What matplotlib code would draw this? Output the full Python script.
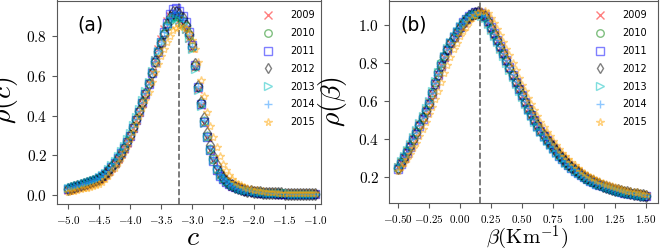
import matplotlib
matplotlib.use("Agg")
import matplotlib.pyplot as plt
from matplotlib.ticker import FuncFormatter, MultipleLocator

plt.rcParams['mathtext.fontset'] = 'cm'
plt.rcParams['font.family'] = ['DejaVu Sans']

years = ['2009', '2010', '2011', '2012', '2013', '2014', '2015']
markers = ['x', 'o', 's', 'd', '>', '+', '*']
colors = ['red', 'green', 'blue', 'black', 'c', 'dodgerblue', 'orange']

# panel (a): rho(c), bins of 0.05
c_vals = [-5.00, -4.95, -4.90, -4.85, -4.80, -4.75, -4.70, -4.65, -4.60, -4.55,
          -4.50, -4.45, -4.40, -4.35, -4.30, -4.25, -4.20, -4.15, -4.10, -4.05,
          -4.00, -3.95, -3.90, -3.85, -3.80, -3.75, -3.70, -3.65, -3.60, -3.55,
          -3.50, -3.45, -3.40, -3.35, -3.30, -3.25, -3.20, -3.15, -3.10, -3.05,
          -3.00, -2.95, -2.90, -2.85, -2.80, -2.75, -2.70, -2.65, -2.60, -2.55,
          -2.50, -2.45, -2.40, -2.35, -2.30, -2.25, -2.20, -2.15, -2.10, -2.05,
          -2.00, -1.95, -1.90, -1.85, -1.80, -1.75, -1.70, -1.65, -1.60, -1.55,
          -1.50, -1.45, -1.40, -1.35, -1.30, -1.25, -1.20, -1.15, -1.10, -1.05,
          -1.00]
rho_c_2009 = [.028, .033, .038, .043, .048, .053, .058, .063, .069, .075,
              .082, .092, .104, .120, .138, .159, .182, .207, .232, .263,
              .296, .336, .376, .418, .462, .510, .562, .620, .680, .735,
              .785, .835, .875, .900, .905, .895, .880, .860, .835, .790,
              .740, .645, .535, .455, .365, .292, .225, .175, .128, .100,
              .083, .068, .057, .048, .041, .035, .030, .026, .022, .019,
              .016, .014, .013, .012, .011, .010, .009, .008, .008, .007,
              .007, .006, .006, .006, .006, .006, .006, .005, .005, .005,
              .005]
rho_c_2010 = [.030, .036, .041, .046, .051, .056, .061, .066, .072, .078,
              .085, .095, .107, .124, .142, .164, .187, .212, .238, .270,
              .303, .343, .383, .425, .468, .514, .562, .616, .672, .720,
              .765, .810, .850, .880, .900, .902, .895, .878, .850, .805,
              .745, .650, .545, .462, .372, .298, .232, .180, .132, .104,
              .086, .071, .058, .049, .042, .036, .030, .026, .022, .019,
              .017, .015, .013, .012, .011, .010, .009, .009, .008, .008,
              .007, .007, .007, .006, .006, .006, .006, .006, .005, .005,
              .005]
rho_c_2011 = [.032, .037, .042, .047, .052, .057, .062, .067, .072, .078,
              .084, .094, .106, .122, .141, .162, .186, .210, .236, .267,
              .300, .338, .378, .420, .462, .508, .558, .614, .672, .722,
              .772, .822, .868, .910, .935, .940, .925, .902, .870, .820,
              .758, .655, .545, .460, .368, .292, .226, .172, .127, .098,
              .082, .068, .056, .047, .040, .034, .029, .025, .021, .018,
              .016, .014, .012, .011, .010, .009, .008, .008, .007, .007,
              .006, .006, .006, .006, .005, .005, .005, .005, .005, .005,
              .004]
rho_c_2012 = [.030, .035, .040, .045, .050, .055, .060, .065, .070, .076,
              .083, .093, .105, .121, .140, .161, .185, .209, .235, .266,
              .300, .339, .380, .422, .465, .511, .560, .617, .675, .724,
              .770, .818, .860, .895, .920, .922, .910, .890, .855, .810,
              .760, .660, .550, .470, .390, .315, .250, .195, .150, .110,
              .085, .070, .058, .049, .042, .036, .030, .026, .022, .019,
              .017, .015, .013, .012, .011, .010, .009, .009, .008, .008,
              .007, .007, .007, .006, .006, .006, .006, .006, .006, .005,
              .005]
rho_c_2013 = [.034, .040, .045, .050, .055, .060, .066, .071, .077, .083,
              .090, .101, .113, .130, .150, .172, .196, .221, .248, .280,
              .314, .354, .394, .436, .478, .523, .570, .625, .680, .727,
              .770, .812, .850, .875, .890, .892, .880, .862, .835, .792,
              .735, .635, .530, .448, .362, .290, .226, .176, .130, .102,
              .086, .072, .060, .051, .044, .038, .032, .028, .024, .021,
              .018, .016, .014, .013, .012, .011, .010, .010, .009, .009,
              .008, .008, .007, .007, .007, .007, .006, .006, .006, .006,
              .006]
rho_c_2014 = [.031, .036, .041, .046, .051, .056, .061, .066, .071, .077,
              .084, .094, .106, .122, .141, .162, .186, .210, .237, .268,
              .302, .341, .382, .424, .466, .512, .561, .618, .676, .725,
              .772, .820, .862, .898, .918, .920, .908, .888, .858, .812,
              .752, .655, .548, .468, .376, .302, .235, .182, .134, .106,
              .088, .073, .060, .051, .044, .037, .032, .027, .023, .020,
              .018, .016, .014, .013, .012, .011, .010, .009, .009, .008,
              .008, .007, .007, .007, .007, .006, .006, .006, .006, .006,
              .006]
rho_c_2015 = [.015, .018, .022, .026, .030, .034, .038, .042, .047, .052,
              .058, .068, .080, .096, .115, .136, .160, .187, .215, .246,
              .280, .319, .360, .400, .440, .478, .520, .570, .620, .662,
              .700, .737, .770, .803, .830, .843, .850, .848, .840, .815,
              .780, .735, .670, .580, .500, .420, .350, .290, .240, .195,
              .155, .125, .100, .082, .068, .058, .050, .042, .035, .030,
              .026, .023, .020, .018, .016, .015, .014, .013, .012, .012,
              .011, .011, .011, .010, .010, .010, .010, .010, .010, .010,
              .010]
c_peak = -3.2

# panel (b): rho(beta), bins of 0.025
beta_vals = [-0.500, -0.475, -0.450, -0.425, -0.400, -0.375, -0.350, -0.325, -0.300, -0.275,
             -0.250, -0.225, -0.200, -0.175, -0.150, -0.125, -0.100, -0.075, -0.050, -0.025,
             0.000, 0.025, 0.050, 0.075, 0.100, 0.125, 0.150, 0.175, 0.200, 0.225,
             0.250, 0.275, 0.300, 0.325, 0.350, 0.375, 0.400, 0.425, 0.450, 0.475,
             0.500, 0.525, 0.550, 0.575, 0.600, 0.625, 0.650, 0.675, 0.700, 0.725,
             0.750, 0.775, 0.800, 0.825, 0.850, 0.875, 0.900, 0.925, 0.950, 0.975,
             1.000, 1.025, 1.050, 1.075, 1.100, 1.125, 1.150, 1.175, 1.200, 1.225,
             1.250, 1.275, 1.300, 1.325, 1.350, 1.375, 1.400, 1.425, 1.450, 1.475,
             1.500]
rho_b_2009 = [.250, .277, .305, .336, .368, .403, .438, .476, .515, .553,
              .592, .643, .695, .743, .790, .833, .872, .906, .936, .964,
              .988, 1.010, 1.028, 1.042, 1.052, 1.058, 1.060, 1.052, 1.040, 1.012,
              .980, .948, .915, .880, .845, .807, .770, .732, .695, .660,
              .625, .590, .556, .526, .497, .469, .442, .417, .393, .373,
              .353, .333, .313, .296, .279, .264, .249, .236, .224, .211,
              .200, .190, .182, .174, .166, .159, .152, .146, .141, .136,
              .131, .127, .123, .119, .116, .113, .110, .107, .104, .101,
              .099]
rho_b_2010 = [.248, .275, .303, .333, .364, .399, .434, .473, .513, .551,
              .590, .645, .700, .750, .800, .835, .868, .902, .932, .960,
              .985, 1.007, 1.025, 1.039, 1.050, 1.058, 1.062, 1.055, 1.043, 1.015,
              .983, .951, .918, .883, .848, .810, .773, .735, .698, .663,
              .628, .592, .558, .528, .498, .470, .443, .418, .394, .374,
              .354, .334, .314, .296, .279, .264, .249, .236, .224, .211,
              .200, .190, .182, .174, .166, .159, .152, .146, .141, .136,
              .131, .127, .123, .119, .116, .113, .110, .107, .104, .101,
              .099]
rho_b_2011 = [.240, .268, .296, .326, .356, .391, .426, .465, .505, .543,
              .582, .635, .688, .736, .783, .828, .868, .903, .934, .964,
              .990, 1.013, 1.032, 1.047, 1.058, 1.065, 1.068, 1.061, 1.048, 1.020,
              .988, .956, .922, .887, .852, .814, .776, .738, .700, .664,
              .629, .593, .558, .527, .497, .469, .441, .416, .391, .370,
              .350, .330, .310, .292, .275, .260, .245, .232, .220, .207,
              .196, .187, .178, .170, .162, .155, .149, .143, .138, .133,
              .128, .124, .120, .116, .113, .110, .107, .104, .101, .098,
              .096]
rho_b_2012 = [.245, .272, .300, .330, .360, .395, .430, .470, .510, .548,
              .585, .637, .690, .738, .785, .830, .870, .905, .935, .964,
              .990, 1.012, 1.030, 1.044, 1.055, 1.062, 1.065, 1.058, 1.045, 1.018,
              .985, .953, .920, .885, .850, .812, .775, .737, .700, .665,
              .630, .594, .560, .530, .500, .472, .445, .420, .395, .375,
              .355, .335, .315, .297, .280, .265, .250, .237, .225, .212,
              .200, .191, .183, .175, .167, .160, .153, .147, .142, .137,
              .132, .128, .124, .120, .117, .114, .111, .108, .105, .102,
              .100]
rho_b_2013 = [.252, .281, .310, .340, .372, .408, .444, .483, .522, .561,
              .600, .652, .705, .750, .795, .838, .878, .911, .940, .967,
              .992, 1.012, 1.030, 1.042, 1.052, 1.056, 1.058, 1.048, 1.035, 1.006,
              .975, .943, .910, .874, .838, .800, .762, .725, .688, .653,
              .618, .583, .550, .520, .490, .463, .436, .411, .387, .367,
              .347, .327, .308, .291, .274, .259, .245, .232, .220, .208,
              .196, .187, .179, .171, .163, .156, .150, .144, .139, .134,
              .129, .125, .121, .117, .114, .111, .108, .105, .102, .099,
              .097]
rho_b_2014 = [.247, .274, .302, .332, .362, .397, .432, .472, .512, .550,
              .588, .640, .692, .740, .787, .832, .871, .906, .936, .965,
              .990, 1.012, 1.030, 1.044, 1.054, 1.061, 1.064, 1.057, 1.044, 1.017,
              .985, .953, .921, .886, .851, .814, .777, .740, .702, .667,
              .632, .597, .562, .532, .502, .474, .447, .422, .397, .377,
              .357, .337, .317, .299, .282, .267, .252, .239, .227, .214,
              .202, .193, .185, .177, .169, .162, .155, .149, .144, .139,
              .134, .130, .126, .122, .119, .116, .113, .110, .107, .104,
              .102]
rho_b_2015 = [.230, .249, .270, .294, .320, .349, .380, .414, .450, .490,
              .530, .565, .610, .650, .700, .745, .790, .832, .870, .906,
              .940, .967, .990, 1.014, 1.035, 1.053, 1.065, 1.073, 1.075, 1.060,
              1.035, 1.010, .980, .945, .910, .875, .840, .800, .760, .722,
              .685, .650, .615, .582, .550, .520, .490, .462, .435, .412,
              .390, .367, .345, .327, .310, .292, .275, .260, .245, .232,
              .220, .210, .200, .191, .183, .175, .167, .161, .155, .149,
              .144, .139, .135, .131, .127, .123, .120, .117, .114, .111,
              .108]
beta_peak = 0.16

rho_c = [rho_c_2009, rho_c_2010, rho_c_2011, rho_c_2012, rho_c_2013, rho_c_2014, rho_c_2015]
rho_b = [rho_b_2009, rho_b_2010, rho_b_2011, rho_b_2012, rho_b_2013, rho_b_2014, rho_b_2015]

fig = plt.figure(figsize=(6.6, 2.5), dpi=100)
ax_a = fig.add_axes([0.0864, 0.184, 0.400, 0.814])
ax_b = fig.add_axes([0.5894, 0.187, 0.4076, 0.811])


def draw_panel(ax, xs, series, peak):
    for ys, yr, m, col in zip(series, years, markers, colors):
        ax.plot(xs, ys, ls='none', marker=m, ms=6, mew=1.0, mfc='none',
                mec=col, alpha=0.5, label=yr)
    ax.axvline(peak, color='0.4', ls='--', lw=1.2, zorder=0)
    for s in ax.spines.values():
        s.set_color('0.35')
    ax.tick_params(axis='both', direction='out', length=3.5, width=0.8, color='0.35')
    ax.tick_params(axis='x', labelsize=8)
    ax.tick_params(axis='y', labelsize=11)
    leg = ax.legend(loc='upper right', frameon=False, fontsize=7, handlelength=1.0,
                    handletextpad=1.76, labelspacing=0.8, borderpad=0, borderaxespad=0,
                    markerscale=0.9)
    for h in leg.legend_handles:
        h.set_alpha(0.5)
    return leg


# (a)
leg_a = draw_panel(ax_a, c_vals, rho_c, c_peak)
ax_a.set_xlim(-5.18, -0.91)
ax_a.set_ylim(-0.045, 0.98)
ax_a.xaxis.set_major_locator(MultipleLocator(0.5))
ax_a.yaxis.set_major_locator(MultipleLocator(0.2))
ax_a.xaxis.set_major_formatter(FuncFormatter(lambda v, p: f'${v:.1f}$'))
ax_a.yaxis.set_major_formatter(FuncFormatter(lambda v, p: f'${v:.1f}$'))
ax_a.set_ylabel(r'$\rho(c)$', fontsize=20)
ax_a.yaxis.set_label_coords(-0.14, 0.51)
ax_a.set_xlabel(r'$c$', fontsize=20, va='baseline')
ax_a.xaxis.set_label_coords(0.515, -0.201)
ax_a.text(0.076, 0.88, '(a)', transform=ax_a.transAxes, fontsize=13.5, va='center', ha='left')
leg_a.set_bbox_to_anchor((0.977, 0.951), transform=ax_a.transAxes)

# (b)
leg_b = draw_panel(ax_b, beta_vals, rho_b, beta_peak)
ax_b.set_xlim(-0.57, 1.597)
ax_b.set_ylim(0.06, 1.128)
ax_b.xaxis.set_major_locator(MultipleLocator(0.25))
ax_b.yaxis.set_major_locator(MultipleLocator(0.2))
ax_b.xaxis.set_major_formatter(FuncFormatter(lambda v, p: f'${v:.2f}$'))
ax_b.yaxis.set_major_formatter(FuncFormatter(lambda v, p: f'${v:.1f}$'))
ax_b.set_ylabel(r'$\rho(\beta)$', fontsize=20)
ax_b.yaxis.set_label_coords(-0.15, 0.50)
ax_b.set_xlabel(r'$\beta(\mathrm{Km}^{-1})$', fontsize=15, va='baseline')
ax_b.xaxis.set_label_coords(0.513, -0.198)
ax_b.text(0.041, 0.88, '(b)', transform=ax_b.transAxes, fontsize=13.5, va='center', ha='left')
leg_b.set_bbox_to_anchor((0.958, 0.951), transform=ax_b.transAxes)

fig.savefig('out.png', dpi=100)
